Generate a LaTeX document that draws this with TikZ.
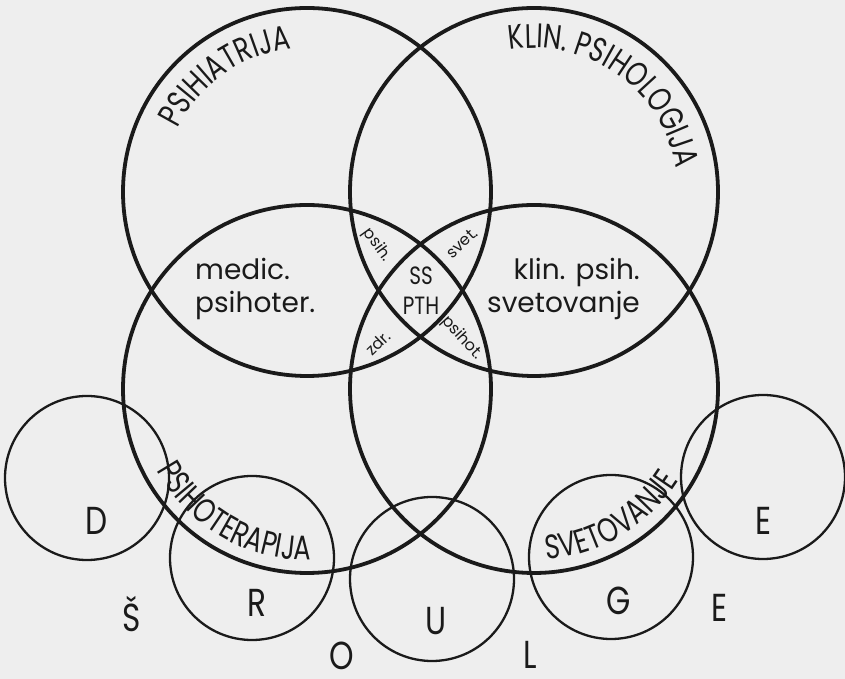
\documentclass[tikz,border=0pt]{standalone}
\usepackage{fontspec}
\usepackage{tikz}
\usetikzlibrary{decorations.text}
\setmainfont{Poppins}
\newfontfamily\vennfont[FakeStretch=0.8]{Poppins}
\newfontfamily\rimfamily[FakeStretch=0.76]{Poppins}
\newfontfamily\vennlower{Poppins}
\newcommand\rimfont{\rimfamily\fontsize{34}{34}\selectfont}
\definecolor{ink}{HTML}{1A1A1A}
\definecolor{paper}{HTML}{EEEEEE}

\begin{document}
\begin{tikzpicture}[
        x=1pt, y=1pt,
        bigring/.style={draw=ink, line width=3.8pt},
        smallring/.style={draw=ink, line width=2.3pt},
        field/.style={inner sep=0pt, text=ink, font=\vennlower\fontsize{28}{28}\selectfont},
        tiny/.style={inner sep=0pt, text=ink, font=\vennlower\fontsize{16}{16}\selectfont},
        core/.style={inner sep=0pt, text=ink, anchor=base, font=\vennfont\fontsize{25}{25}\selectfont},
        letter/.style={inner sep=0pt, text=ink, anchor=base, font=\vennfont\fontsize{39}{39}\selectfont},
        rim/.style={decorate, decoration={text along path, text align=center, text color=ink, text={#1}}}
    ]
    \fill[paper] (0,0) rectangle (845,679);
    \useasboundingbox (0,0) rectangle (845,679);

    \coordinate (psy)   at (307,487);
    \coordinate (clin)  at (534,487);
    \coordinate (ther)  at (307,290);
    \coordinate (couns) at (534,290);

    \coordinate (sd) at (87,201);
    \coordinate (sr) at (252,121);
    \coordinate (su) at (432,100);
    \coordinate (sg) at (611,122);
    \coordinate (se) at (763,202);

    \foreach \c in {sd,sr,su,sg,se}
        \draw[smallring] (\c) circle[radius=82];
    \foreach \c in {psy,clin,ther,couns}
        \draw[bigring] (\c) circle[radius=184];

    \path[rim={|\rimfont|PSIHIATRIJA}, shift={(psy)}]
        (185:144) arc[start angle=185, end angle=65, radius=144];
    \path[rim={|\rimfont|KLIN. PSIHOLOGIJA}, shift={(clin)}]
        (145:144) arc[start angle=145, end angle=-36, radius=144];
    \path[rim={|\rimfont|PSIHOTERAPIJA}, shift={(ther)}]
        (180:171) arc[start angle=180, end angle=300, radius=171];
    \path[rim={|\rimfont|SVETOVANJE}, shift={(couns)}]
        (241:171) arc[start angle=241, end angle=361, radius=171];

    \node[field, anchor=base west] (medic)   at (195,399) {medic.};
    \node[field, anchor=base west] (psyther) at (195,366) {psihoter.};
    \node[field, anchor=base east] (clinpsy) at (640,399) {klin. psih.};
    \node[field, anchor=base east] (counsel) at (640,366) {svetovanje};

    \node[core] (ss)  at (421,394) {SS};
    \node[core] (pth) at (421,364) {PTH};

    \node[tiny, rotate=-54] (psih)   at (377,434) {psih.};
    \node[tiny, rotate=42]  (svet)   at (462,436) {svet.};
    \node[tiny, rotate=44]  (zdr)    at (378,336) {zdr.};
    \node[tiny, rotate=-48] (psihot) at (462,341) {psihot.};

    \node[letter] (ld)  at (97,144)  {D};
    \node[letter] (lr)  at (257,62)  {R};
    \node[letter] (lu)  at (436,44)  {U};
    \node[letter] (lg)  at (619,64)  {G};
    \node[letter] (le)  at (763,144) {E};
    \node[letter] (lsh) at (132,47)  {Š};
    \node[letter] (lo)  at (342,9)   {O};
    \node[letter] (ll)  at (530,10)  {L};
    \node[letter] (le2) at (719,57)  {E};
  \end{tikzpicture}
\end{document}
